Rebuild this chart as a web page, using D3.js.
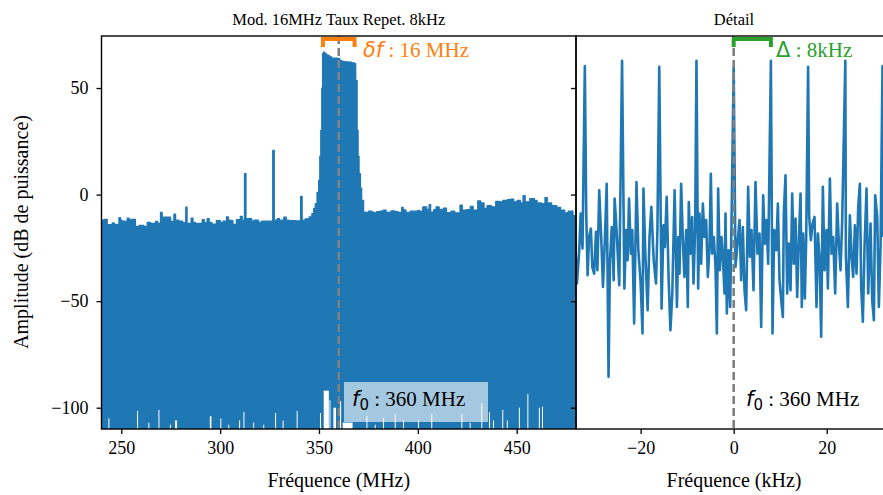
<!DOCTYPE html>
<html>
<head>
<meta charset="utf-8">
<script src="https://cdn.jsdelivr.net/npm/d3@7"></script>
<style>
  body { margin: 0; background: #fff; }
  svg { display: block; }
</style>
</head>
<body>
<svg id="chart"></svg>
<script>
// spectrum, upper envelope of the dense trace (MHz, dB)
const wideFreq = [240, 241.2, 242.9, 245.4, 246.5, 247.9, 248.8, 249.6, 250.4, 252.1, 253, 254, 254.7, 256.3, 257.2, 259, 261.4, 263.1, 264.8, 266.4, 267.3, 268.5, 269.8, 270.7, 271.5, 274, 275, 276.6, 277.5, 279.1, 281, 282.6, 283.3, 285.3, 286.3, 287.5, 290.9, 292, 293.4, 294.5, 295.9, 298.1, 300.1, 301.5, 303.2, 304.2, 305.2, 306.5, 308.2, 310.2, 311.2, 312.3, 313.1, 314.5, 316, 317, 319.5, 321, 324.5, 326.6, 327.4, 328.9, 330, 332.2, 333.5, 334.8, 338.2, 340.7, 341.5, 343, 345, 346.4, 347.3, 348.1, 349, 349.8, 350.4, 350.9, 351.4, 351.8, 352.3, 353, 354, 355.3, 356.5, 358, 359.5, 360.5, 361.5, 363, 364.9, 366.5, 367.9, 368.6, 369.3, 369.8, 370.3, 371, 371.6, 372.6, 373.5, 375, 376.7, 378, 379.2, 381, 382.5, 384, 385, 386.5, 388.4, 390, 391.8, 392.6, 394, 396.1, 398.6, 399.8, 401, 402.5, 404.5, 405.7, 406.5, 408, 409.2, 410.8, 413, 414.5, 416.8, 418.7, 421.3, 422.5, 424.6, 426.5, 428, 430.3, 431.8, 433.5, 435, 437.3, 439.4, 441.3, 443, 445.3, 447, 448.5, 450.2, 451.9, 453.2, 454.3, 456.6, 459, 460.3, 462.5, 464.3, 465.5, 467.7, 470.3, 472.2, 474.3, 476, 477.3, 478.5, 480];
const wideTopDb = [-12, -11.6, -14.1, -13.3, -14, -14.1, -10.8, -12, -12.5, -12.5, -11, -12, -11.6, -11.6, -14.9, -14.5, -14.9, -13, -13.5, -13.5, -12.6, -13.5, -8.4, -10.6, -10.6, -10.6, -12.6, -9.2, -12, -12.4, -13, -5.9, -13.5, -11, -13, -13.5, -11.7, -13, -11.3, -13, -13.8, -12.2, -13, -12.5, -10.5, -12, -12.2, -14, -11.7, -10.2, -12, 9.8, -11.3, -11.3, -12.5, -12, -13, -12.5, -12.5, 20.8, -12, -11.3, -12, -10.6, -12, -12.2, -12.3, -0.8, -12, -11.4, -10.5, -8.9, -6.5, -4.2, 1, 6.7, 18, 30.1, 50, 66.1, 66.9, 66, 65.3, 64.6, 64, 64, 63.8, 63, 62.5, 62.3, 62.2, 61.8, 61.4, 53.6, 30.1, 18, 9.8, 3, -2.7, -8.2, -8.4, -7.8, -8.2, -8.6, -8, -7.7, -7.3, -8.5, -8.2, -7.6, -8, -8.4, -6, -7.2, -8.3, -7.8, -7.8, -7.5, -7.8, -5.8, -6.9, -4.7, -8.2, -7, -5.8, -6.9, -6.3, -8.5, -7.8, -8.6, -5, -7.3, -7, -5.5, -7.3, -3, -3.9, -6.5, -5.2, -5.8, -3.2, -3.4, -2.7, -2.4, -2.1, -3.4, -2.7, -3.9, -0.5, -3.4, -1.9, -2.7, -3.9, -4.2, -1.4, -3.9, -5.2, -6, -7.3, -8.6, -7.8, -7.8, -9.9, -10.6];

// places where the trace stays above the bottom of the axis: [from MHz, to MHz, lowest dB]
const wideGaps = [
  [243.5, 244.0, -105], [258.0, 258.5, -101.5], [263.7, 264.2, -107], [268.8, 269.3, -101],
  [274.6, 275.1, -108], [277.2, 278.2, -106], [294.8, 295.6, -104], [300.1, 300.6, -105],
  [304.1, 304.6, -108], [309.6, 310.1, -106], [311.8, 312.3, -102], [316.7, 317.2, -107],
  [321.8, 322.3, -108], [327.8, 328.3, -102.5], [331.6, 332.1, -106], [338.7, 339.2, -101.5],
  [350.5, 351.0, -102.5], [352.4, 355.0, -92], [355.3, 355.8, -96.5], [357.3, 358.6, -100],
  [360.6, 361.2, -97], [362.0, 367.0, -107], [374.0, 374.5, -104], [378.2, 378.7, -108],
  [382.4, 382.9, -105], [388.3, 388.8, -103], [392.5, 393.0, -106], [400.1, 400.6, -106],
  [406.8, 407.3, -103], [422.0, 422.5, -103], [426.2, 426.7, -107], [432.1, 432.6, -98],
  [436.0, 436.5, -102], [438.0, 438.5, -106], [442.7, 443.2, -101], [445.0, 445.5, -106],
  [451.1, 451.6, -100], [455.4, 455.8, -93.5], [461.2, 461.7, -100], [462.8, 463.3, -99.5]
];

// detail around the carrier (kHz from f0, dB)
const detailKHz = [-34.3, -33.7, -33.2, -32.9, -32.5, -32.0, -31.7, -31.4, -31.1, -30.7, -30.4, -30.0, -29.6, -29.3, -28.9, -28.4, -28.1, -27.7, -27.3, -26.9, -26.6, -26.2, -25.8, -25.6, -25.3, -25.0, -24.6, -24.0, -23.5, -23.1, -22.8, -22.5, -22.1, -21.8, -21.4, -20.9, -20.5, -20.0, -19.6, -19.4, -19.0, -18.5, -18.1, -17.7, -17.2, -16.7, -16.4, -16.0, -15.5, -15.1, -14.8, -14.4, -14.0, -13.6, -13.2, -12.7, -12.2, -11.9, -11.65, -11.3, -10.9, -10.6, -10.2, -9.86, -9.65, -9.29, -8.93, -8.64, -8.28, -8.0, -7.64, -7.35, -7.0, -6.63, -6.28, -5.92, -5.56, -5.2, -4.91, -4.63, -4.27, -3.91, -3.62, -3.34, -2.98, -2.62, -2.33, -1.98, -1.76, -1.47, -1.12, -0.76, -0.47, 0, 0.39, 0.82, 1.25, 1.61, 1.97, 2.33, 2.68, 3.11, 3.47, 3.83, 4.26, 4.69, 5.12, 5.55, 5.91, 6.34, 6.7, 7.06, 7.41, 8.0, 8.35, 8.71, 9.14, 9.5, 9.85, 10.28, 10.57, 10.78, 11.14, 11.5, 11.86, 12.22, 12.58, 12.93, 13.29, 13.65, 14.01, 14.37, 14.65, 14.94, 15.3, 15.59, 16.0, 16.23, 16.59, 16.95, 17.38, 17.81, 18.1, 18.45, 18.81, 19.17, 19.53, 19.96, 20.25, 20.68, 21.03, 21.39, 21.82, 22.25, 22.61, 22.97, 23.33, 24.0, 24.12, 24.55, 24.98, 25.34, 25.69, 26.05, 26.41, 26.77, 27.13, 27.41, 27.77, 28.13, 28.56, 28.92, 29.42, 29.78, 30.14, 30.42, 30.86, 31.21, 31.57, 32.0, 32.15];
const detailDb = [-10.5, -41.7, -26.1, -8.9, -25.3, 60.3, -8.9, -37.8, -19.9, -16, -33.9, -37.1, -17.5, -35.5, 2, -24.6, -43.3, -21.4, 5.1, -85.5, -30.8, -15.2, -40.2, -1.9, -12, -24.6, -42.5, 62.8, -44.1, -16.7, -30.8, -1.9, -27.7, -16.7, -60.5, 5.9, -26.1, -41.7, -65.2, 2.8, -27.7, -54.3, -19.9, -5.8, -30.8, -41.7, -16.7, 60, -53.5, -14.4, -24.6, -1.1, -38.6, -63.6, -46.4, 2, -52.7, -19.9, -37.1, 5.1, -23, -38.6, -16.7, -52.7, -3.5, -27.7, -10.5, -41.7, -16, 62.8, -44.1, -8.9, -32.4, -4.2, -19.9, -12, -38.6, -24.6, 9.8, -27.7, -19.9, -33.9, -65.2, 2.8, -35.5, -19.9, -29.2, -46.4, -8.9, -55.8, -26.1, -52.7, -13.6, 60, -33.9, -23, -12, -40.2, -15.2, -44.9, -54.3, 3.6, -29.2, -16.7, -44.9, 5.9, -27.7, -18.3, -62.1, -0.3, -23, -12, -32.4, 62.8, -65.2, -16.7, -26.1, -4.2, -40.2, -51.1, -57.4, -8.9, 9.0, -46.4, -23, -44.9, 0.5, -32.4, -11.3, -48, -21.4, 0.5, -52.7, -18.3, -48.8, -19.9, 60, -10.5, -21.4, -13.6, -10.5, -52.7, -18.3, -29.2, -66.7, 3.6, -35.5, -16.7, -44.1, 7.5, -27.7, -19.9, -46.4, -4.2, -23, -35.5, -12, 62.8, -29.2, -52.7, -9.7, -29.2, -38.6, -14.4, -37.1, -5.8, 5.1, -43.3, -59.7, -24.6, 2.8, -46.4, -13.6, -49.5, -58.9, -0.3, -10.5, -52.7, -24.6, 60.3, -19.9];

const wideTicks = [250, 300, 350, 400, 450];
const detailTicks = [-20, 0, 20];
const dbTicks = [-100, -50, 0, 50];
const f0 = 360, bandwidth = 16, repRate = 8;

const width = 883, height = 495;
const plot = { top: 36, bottom: 429, left: 101.5, mid: 576, right: 883 };
const serif = "'Liberation Serif', 'DejaVu Serif', serif";
const blue = "#1f77b4";

const svg = d3.select("#chart").attr("width", width).attr("height", height);

const xWide = d3.scaleLinear().domain([240, 480]).range([plot.left, plot.mid]);
const xDetail = d3.scaleLinear().domain([-33.9, 32.1]).range([plot.mid, plot.right]);
const y = d3.scaleLinear().domain([-110, 74.4]).range([plot.bottom, plot.top]);

const defs = svg.append("defs");
defs.append("clipPath").attr("id", "clipWide").append("rect")
  .attr("x", plot.left).attr("y", plot.top)
  .attr("width", plot.mid - plot.left).attr("height", plot.bottom - plot.top);
defs.append("clipPath").attr("id", "clipDetail").append("rect")
  .attr("x", plot.mid).attr("y", plot.top)
  .attr("width", plot.right - plot.mid).attr("height", plot.bottom - plot.top);

// ---- left panel: wide spectrum
const wide = svg.append("g").attr("clip-path", "url(#clipWide)");
const wideData = wideFreq.map((f, i) => ({ f: f, db: wideTopDb[i] }));

wide.append("path")
  .datum(wideData)
  .attr("fill", blue)
  .attr("stroke", blue)
  .attr("stroke-width", 1.2)
  .attr("stroke-linejoin", "round")
  .attr("d", d3.area()
    .curve(d3.curveStepAfter)
    .x(d => xWide(d.f))
    .y0(y(-120))
    .y1(d => y(d.db)));

wide.selectAll("rect.gap")
  .data(wideGaps)
  .enter()
  .append("rect")
  .attr("class", "gap")
  .attr("x", d => xWide(d[0]))
  .attr("width", d => Math.max(1, xWide(d[1]) - xWide(d[0])))
  .attr("y", d => y(d[2]))
  .attr("height", d => y(-120) - y(d[2]))
  .attr("fill", "#fff");

// dashed carrier line
wide.append("line")
  .attr("x1", xWide(f0)).attr("x2", xWide(f0))
  .attr("y1", plot.top).attr("y2", plot.bottom)
  .attr("stroke", "#808080").attr("stroke-width", 2.6)
  .attr("stroke-dasharray", "8,4");

// ---- right panel: detail
const detail = svg.append("g").attr("clip-path", "url(#clipDetail)");
detail.append("path")
  .datum(detailKHz.map((k, i) => ({ k: k, db: detailDb[i] })))
  .attr("fill", "none")
  .attr("stroke", blue)
  .attr("stroke-width", 2.6)
  .attr("stroke-linejoin", "round")
  .attr("d", d3.line().x(d => xDetail(d.k)).y(d => y(d.db)));

detail.append("line")
  .attr("x1", xDetail(0)).attr("x2", xDetail(0))
  .attr("y1", plot.top).attr("y2", plot.bottom)
  .attr("stroke", "#808080").attr("stroke-width", 2.6)
  .attr("stroke-dasharray", "8,4");

// ---- brackets (bandwidth / rep rate)
function bracket(x0, x1, color) {
  svg.append("path")
    .attr("d", `M${x0},47 L${x0},39 L${x1},39 L${x1},47`)
    .attr("fill", "none")
    .attr("stroke", color)
    .attr("stroke-width", 4);
}
bracket(xWide(f0 - bandwidth / 2), xWide(f0 + bandwidth / 2), "#ff7f0e");
bracket(xDetail(0), xDetail(repRate), "#2ca02c");

const dfText = svg.append("text")
  .attr("x", 363).attr("y", 57)
  .attr("fill", "#ff7f0e")
  .style("font-size", "21px");
dfText.append("tspan").style("font-family", "'DejaVu Sans'").style("font-style", "italic").text("δf");
dfText.append("tspan").style("font-family", serif).text(" : " + bandwidth + " MHz");

const deltaText = svg.append("text")
  .attr("x", 776).attr("y", 57)
  .attr("fill", "#2ca02c")
  .style("font-size", "21px");
deltaText.append("tspan").style("font-family", "'DejaVu Sans'").text("Δ");
deltaText.append("tspan").style("font-family", serif).text(" : " + repRate + "kHz");

// f0 labels
svg.append("rect")
  .attr("x", 344).attr("y", 382)
  .attr("width", 144).attr("height", 40)
  .attr("fill", "#fff").attr("fill-opacity", 0.6);

function f0Label(x) {
  const t = svg.append("text")
    .attr("x", x).attr("y", 406)
    .attr("fill", "#000")
    .style("font-size", "21px");
  t.append("tspan").style("font-family", "'DejaVu Sans'").style("font-style", "italic").text("f");
  t.append("tspan").style("font-family", "'DejaVu Sans'").style("font-size", "15px").attr("dy", 4).text("0");
  t.append("tspan").style("font-family", serif).attr("dy", -4).text(" : " + f0 + " MHz");
}
f0Label(352);
f0Label(746);

// ---- frames + axes
svg.append("rect")
  .attr("x", plot.left).attr("y", plot.top)
  .attr("width", plot.mid - plot.left).attr("height", plot.bottom - plot.top)
  .attr("fill", "none").attr("stroke", "#000").attr("stroke-width", 1.4);
svg.append("rect")
  .attr("x", plot.mid).attr("y", plot.top)
  .attr("width", plot.right - plot.mid + 5).attr("height", plot.bottom - plot.top)
  .attr("fill", "none").attr("stroke", "#000").attr("stroke-width", 1.4);

function styleAxis(g) {
  g.select(".domain").remove();
  g.selectAll(".tick line").attr("stroke", "#000").attr("stroke-width", 1.3);
  g.selectAll(".tick text")
    .attr("fill", "#000")
    .style("font-family", serif)
    .style("font-size", "18px");
}

svg.append("g")
  .attr("transform", `translate(0,${plot.bottom})`)
  .call(d3.axisBottom(xWide).tickValues(wideTicks).tickSize(5).tickPadding(7))
  .call(styleAxis);

svg.append("g")
  .attr("transform", `translate(0,${plot.bottom})`)
  .call(d3.axisBottom(xDetail).tickValues(detailTicks).tickSize(5).tickPadding(7))
  .call(styleAxis);

svg.append("g")
  .attr("transform", `translate(${plot.left},0)`)
  .call(d3.axisLeft(y).tickValues(dbTicks).tickSize(5).tickPadding(8))
  .call(styleAxis);

// right panel shares y, ticks only
svg.append("g")
  .attr("transform", `translate(${plot.mid},0)`)
  .call(d3.axisLeft(y).tickValues(dbTicks).tickSize(5).tickFormat(""))
  .call(styleAxis);

// titles + labels
svg.append("text")
  .attr("x", (plot.left + plot.mid) / 2).attr("y", 25)
  .attr("text-anchor", "middle")
  .style("font-family", serif).style("font-size", "16.5px")
  .text("Mod. 16MHz Taux Repet. 8kHz");

svg.append("text")
  .attr("x", 734).attr("y", 25)
  .attr("text-anchor", "middle")
  .style("font-family", serif).style("font-size", "16.5px")
  .text("Détail");

svg.append("text")
  .attr("x", (plot.left + plot.mid) / 2).attr("y", 487)
  .attr("text-anchor", "middle")
  .style("font-family", serif).style("font-size", "20px")
  .text("Fréquence (MHz)");

svg.append("text")
  .attr("x", 734).attr("y", 487)
  .attr("text-anchor", "middle")
  .style("font-family", serif).style("font-size", "20px")
  .text("Fréquence (kHz)");

svg.append("text")
  .attr("transform", "translate(28,232) rotate(-90)")
  .attr("text-anchor", "middle")
  .style("font-family", serif).style("font-size", "20px")
  .text("Amplitude (dB de puissance)");
</script>
</body>
</html>
